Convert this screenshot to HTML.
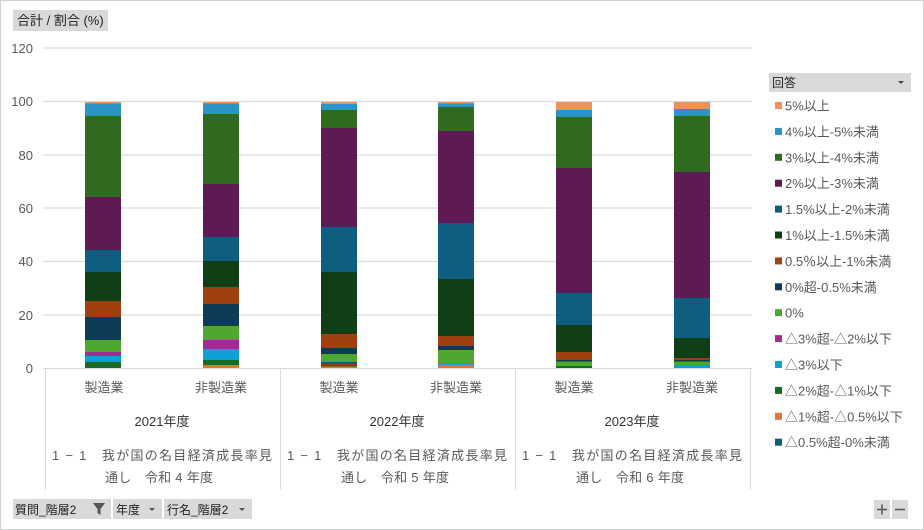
<!DOCTYPE html>
<html><head><meta charset="utf-8"><style>
html,body{margin:0;padding:0;background:#fff;}
svg{display:block;font-family:"Liberation Sans","Noto Sans CJK JP",sans-serif;}
</style></head><body>
<svg width="924" height="530" xmlns="http://www.w3.org/2000/svg">
<rect x="0.5" y="0.5" width="923" height="529" fill="#fff" stroke="#d0d0d0"/>
<rect x="13" y="10" width="95" height="21" fill="#d9d9d9"/>
<text x="17" y="25" font-size="13" fill="#222">合計 / 割合 (%)</text>
<g stroke="#d9d9d9" stroke-width="1.3">
<line x1="43" y1="48" x2="752" y2="48"/><line x1="43" y1="101.5" x2="752" y2="101.5"/><line x1="43" y1="155" x2="752" y2="155"/><line x1="43" y1="208" x2="752" y2="208"/><line x1="43" y1="261.5" x2="752" y2="261.5"/><line x1="43" y1="315" x2="752" y2="315"/>
</g>
<g font-size="13" fill="#595959" text-anchor="end">
<text x="33" y="53">120</text><text x="33" y="106">100</text><text x="33" y="160">80</text><text x="33" y="213">60</text><text x="33" y="266">40</text><text x="33" y="320">20</text><text x="33" y="373">0</text>
</g>
<g id="bars"></g>
<g stroke="#d9d9d9" stroke-width="1">
<line x1="43" y1="368.5" x2="752" y2="368.5"/>
<line x1="45.5" y1="368" x2="45.5" y2="490"/><line x1="280.5" y1="368" x2="280.5" y2="490"/><line x1="515.5" y1="368" x2="515.5" y2="490"/><line x1="750.5" y1="368" x2="750.5" y2="490"/>
</g>
<g font-size="13" fill="#595959" text-anchor="middle">
<text x="104" y="392">製造業</text><text x="221" y="392">非製造業</text>
<text x="339" y="392">製造業</text><text x="456" y="392">非製造業</text>
<text x="574" y="392">製造業</text><text x="692" y="392">非製造業</text>
<text x="162" y="426" fill="#333">2021年度</text><text x="397" y="426" fill="#333">2022年度</text><text x="632" y="426" fill="#333">2023年度</text>
</g>
<g font-size="13" fill="#595959">
<text x="52" y="460" textLength="220" lengthAdjust="spacing">1 − 1　我が国の名目経済成長率見</text><text x="105" y="482" textLength="108" lengthAdjust="spacing">通し　令和 4 年度</text>
<text x="287" y="460" textLength="220" lengthAdjust="spacing">1 − 1　我が国の名目経済成長率見</text><text x="341" y="482" textLength="108" lengthAdjust="spacing">通し　令和 5 年度</text>
<text x="522" y="460" textLength="220" lengthAdjust="spacing">1 − 1　我が国の名目経済成長率見</text><text x="576" y="482" textLength="108" lengthAdjust="spacing">通し　令和 6 年度</text>
</g>
<rect x="13" y="499" width="98" height="20" fill="#d9d9d9"/>
<rect x="113" y="499" width="49" height="20" fill="#d9d9d9"/>
<rect x="164" y="499" width="88" height="20" fill="#d9d9d9"/>
<g font-size="12" fill="#222">
<text x="15" y="514">質問_階層2</text><text x="116" y="514">年度</text><text x="167" y="514">行名_階層2</text>
</g>
<path d="M93 503h12l-4.5 6v6l-3-2v-4z" fill="#555"/>
<path d="M149 508h6l-3 3z M239 508h6l-3 3z" fill="#555"/>
<rect x="874" y="500" width="16" height="19" fill="#d9d9d9"/><rect x="892" y="500" width="16" height="19" fill="#d9d9d9"/>
<path d="M877 509.5h10M882 504.5v10M895 509.5h10" stroke="#555" stroke-width="1.5"/>
<rect x="769" y="73" width="142" height="19" fill="#d9d9d9"/>
<text x="772" y="87" font-size="12" fill="#222">回答</text>
<path d="M898 81h6l-3 3z" fill="#444"/>
<g id="legend" font-size="13" fill="#595959"></g>
</svg>
<script>
var C={o:"#f0905a",b4:"#2994c6",g3:"#2e6b1e",p:"#5e1a55",b15:"#0e5e80",dg:"#0f3e17",br:"#a1400f",nv:"#0d3a55",g0:"#4ea72e",m:"#a02b93",cy:"#10a0d8",g2:"#196b24",o1:"#e97132",bt:"#0f5b7a"};
var bars=[
[85,[[102,103.5,"o"],[103.5,116,"b4"],[116,197,"g3"],[197,250,"p"],[250,272,"b15"],[272,301,"dg"],[301,317,"br"],[317,340,"nv"],[340,352,"g0"],[352,356,"m"],[356,362,"cy"],[362,368,"g2"]]],
[203,[[102,103.5,"o"],[103.5,114,"b4"],[114,184,"g3"],[184,237,"p"],[237,261,"b15"],[261,287,"dg"],[287,304,"br"],[304,326,"nv"],[326,340,"g0"],[340,349,"m"],[349,360,"cy"],[360,365,"g2"],[365,368,"o1"]]],
[321,[[102,104,"o"],[104,110,"b4"],[110,128,"g3"],[128,227,"p"],[227,272,"b15"],[272,334,"dg"],[334,348,"br"],[348,354,"nv"],[354,362,"g0"],[362,364,"bt"],[364,365,"br"],[365,366.5,"g2"],[366.5,368,"o1"]]],
[438,[[102,103.5,"o"],[103.5,107,"b4"],[107,131,"g3"],[131,223,"p"],[223,279,"b15"],[279,336,"dg"],[336,346,"br"],[346,350,"nv"],[350,363,"g0"],[363,365,"cy"],[365,368,"o1"]]],
[556,[[102,110,"o"],[110,117,"b4"],[117,168,"g3"],[168,293,"p"],[293,325,"b15"],[325,352,"dg"],[352,360,"br"],[360,361.5,"nv"],[361.5,366,"g0"],[366,368,"g2"]]],
[674,[[102,109,"o"],[109,116,"b4"],[116,172,"g3"],[172,298,"p"],[298,338,"b15"],[338,358,"dg"],[358,360,"br"],[360,361.5,"nv"],[361.5,365,"g0"],[365,368,"cy"]]]];
var s="";bars.forEach(function(b){b[1].forEach(function(q){s+='<rect x="'+b[0]+'" y="'+q[0]+'" width="36" height="'+(q[1]-q[0])+'" fill="'+C[q[2]]+'"/>';});});
document.getElementById("bars").innerHTML=s;
var L=[["o","5%以上"],["b4","4%以上-5%未満"],["g3","3%以上-4%未満"],["p","2%以上-3%未満"],["b15","1.5%以上-2%未満"],["dg","1%以上-1.5%未満"],["br","0.5％以上-1%未満"],["nv","0%超-0.5%未満"],["g0","0%"],["m","△3%超-△2%以下"],["cy","△3%以下"],["g2","△2%超-△1%以下"],["o1","△1%超-△0.5%以下"],["bt","△0.5%超-0%未満"]];
var t="";L.forEach(function(l,i){var y=106+i*25.9;t+='<rect x="775" y="'+(y-4)+'" width="7" height="7" fill="'+C[l[0]]+'"/><text x="785" y="'+(y+4.5)+'">'+l[1]+'</text>';});
document.getElementById("legend").innerHTML=t;
</script>
</body></html>
